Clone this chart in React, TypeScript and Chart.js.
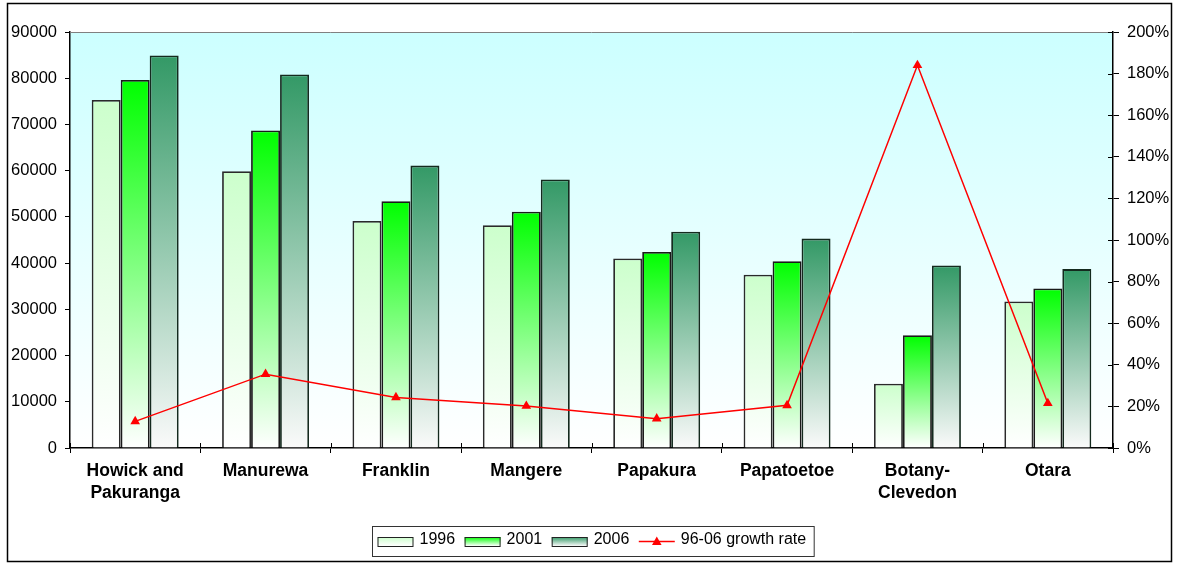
import React, { useEffect, useRef } from 'react';
import { Chart, registerables } from 'chart.js';

Chart.register(...registerables);

const categories: (string | string[])[] = [
  ['Howick and', 'Pakuranga'],
  'Manurewa',
  'Franklin',
  'Mangere',
  'Papakura',
  'Papatoetoe',
  ['Botany-', 'Clevedon'],
  'Otara',
];
const values1996 = [75300, 59900, 49100, 48200, 41000, 37500, 13900, 31700];
const values2001 = [79600, 68700, 53400, 51100, 42400, 40400, 24400, 34500];
const values2006 = [84900, 80800, 61100, 58100, 46800, 45300, 39500, 38700];
const growthRate = [12.8, 35.5, 24.3, 20.2, 14.1, 20.5, 184, 21.5];
const seriesLabels = ['1996', '2001', '2006', '96-06 growth rate'];
const leftAxisMax = 90000;
const leftAxisStep = 10000;
const rightAxisMax = 200;
const rightAxisStep = 20;

const FONT = '"Liberation Sans", Arial, Helvetica, sans-serif';
const barTopColors = ['#CCFFCC', '#00FF00', '#339966'];
const barBottomColors = ['#FFFFFF', '#FFFFFF', '#FAFAFA'];

function barGradient(i: number) {
  return (ctx: any) => {
    const chart = ctx.chart;
    const area = chart.chartArea;
    if (!area || ctx.type !== 'data' || !chart.scales.y) return barTopColors[i];
    const v = ctx.raw as number;
    const yScale = chart.scales.y;
    const yTop = yScale.getPixelForValue(v);
    const yBot = yScale.getPixelForValue(0);
    const g = chart.ctx.createLinearGradient(0, yTop, 0, yBot);
    g.addColorStop(0, barTopColors[i]);
    g.addColorStop(1, barBottomColors[i]);
    return g;
  };
}

const decorPlugin = {
  id: 'decor',
  beforeDraw(chart: any) {
    const { ctx, chartArea: a } = chart;
    ctx.save();
    ctx.fillStyle = '#FFFFFF';
    ctx.fillRect(0, 0, chart.width, chart.height);
    const g = ctx.createLinearGradient(0, a.top, 0, a.bottom);
    g.addColorStop(0, '#CCFFFF');
    g.addColorStop(1, '#FFFFFF');
    ctx.fillStyle = g;
    ctx.fillRect(a.left, a.top, a.right - a.left, a.bottom - a.top);
    ctx.restore();
  },
  afterDraw(chart: any) {
    const { ctx, chartArea: a } = chart;
    ctx.save();
    // top border of plot area
    ctx.strokeStyle = '#808080';
    ctx.lineWidth = 1;
    ctx.beginPath();
    ctx.moveTo(a.left, a.top + 0.5);
    ctx.lineTo(a.right, a.top + 0.5);
    ctx.stroke();

    // inward ticks on right axis and x axis
    ctx.strokeStyle = '#000';
    ctx.lineWidth = 1;
    const y1 = chart.scales.y1;
    y1.ticks.forEach((_t: any, idx: number) => {
      const py = Math.round(y1.getPixelForTick(idx)) + 0.5;
      ctx.beginPath();
      ctx.moveTo(a.right - 5, py);
      ctx.lineTo(a.right, py);
      ctx.stroke();
    });
    const n = categories.length;
    for (let i = 0; i <= n; i++) {
      const px = Math.round(a.left + ((a.right - a.left) * i) / n) + 0.5;
      ctx.beginPath();
      ctx.moveTo(px, a.bottom - 5);
      ctx.lineTo(px, a.bottom);
      ctx.stroke();
    }

    // outer border
    ctx.strokeStyle = '#000';
    ctx.lineWidth = 1.5;
    ctx.strokeRect(7.5, 3.5, 1164, 558);

    // legend
    ctx.font = `16px ${FONT}`;
    ctx.textBaseline = 'middle';
    ctx.textAlign = 'left';
    const swW = 36;
    const gapSwText = 6;
    const gapItems = 9.5;
    const padL = 5;
    const padR = 8;
    let total = padL + padR;
    seriesLabels.forEach((lab, i) => {
      total += swW + gapSwText + ctx.measureText(lab).width;
      if (i < seriesLabels.length - 1) total += gapItems;
    });
    const boxLeft = Math.round(592.5 - total / 2) + 0.5;
    const boxTop = 526.5;
    const boxH = 30;
    const cy = boxTop + boxH / 2;
    ctx.lineWidth = 1;
    ctx.strokeStyle = '#333';
    ctx.strokeRect(boxLeft, boxTop, total, boxH);
    let x = boxLeft + padL;
    seriesLabels.forEach((lab, i) => {
      if (i < 3) {
        const sy = Math.round(cy - 4.5);
        const g = ctx.createLinearGradient(0, sy, 0, sy + 9);
        g.addColorStop(0, barTopColors[i]);
        g.addColorStop(1, barBottomColors[i]);
        ctx.fillStyle = g;
        ctx.fillRect(x, sy, swW, 9);
        ctx.strokeStyle = '#222';
        ctx.lineWidth = 1;
        ctx.strokeRect(x + 0.5, sy + 0.5, swW - 1, 9);
      } else {
        ctx.strokeStyle = '#FF0000';
        ctx.lineWidth = 1.5;
        ctx.beginPath();
        ctx.moveTo(x, cy);
        ctx.lineTo(x + swW, cy);
        ctx.stroke();
        ctx.fillStyle = '#FF0000';
        const tx = x + swW / 2;
        ctx.beginPath();
        ctx.moveTo(tx, cy - 5);
        ctx.lineTo(tx + 4.8, cy + 3.5);
        ctx.lineTo(tx - 4.8, cy + 3.5);
        ctx.closePath();
        ctx.fill();
      }
      x += swW + gapSwText;
      ctx.fillStyle = '#000';
      ctx.fillText(lab, x, cy - 1.5);
      x += ctx.measureText(lab).width + gapItems;
    });
    ctx.restore();
  },
};

export default function App() {
  const ref = useRef<HTMLCanvasElement | null>(null);
  useEffect(() => {
    if (!ref.current) return;
    const chart = new Chart(ref.current, {
      type: 'bar',
      data: {
        labels: categories as any,
        datasets: [
          {
            type: 'line',
            label: seriesLabels[3],
            data: growthRate,
            yAxisID: 'y1',
            borderColor: '#FF0000',
            backgroundColor: '#FF0000',
            borderWidth: 1.5,
            pointStyle: 'triangle',
            pointRadius: 5.6,
            pointBorderWidth: 0,
            pointBackgroundColor: '#FF0000',
            tension: 0,
            order: 0,
          } as any,
          {
            label: seriesLabels[0],
            data: values1996,
            backgroundColor: barGradient(0),
            borderColor: '#2a2a2a',
            borderWidth: 1.8,
            order: 1,
          },
          {
            label: seriesLabels[1],
            data: values2001,
            backgroundColor: barGradient(1),
            borderColor: '#1a1a1a',
            borderWidth: 1.8,
            order: 1,
          },
          {
            label: seriesLabels[2],
            data: values2006,
            backgroundColor: barGradient(2),
            borderColor: '#142a1e',
            borderWidth: 1.8,
            order: 1,
          },
        ],
      },
      options: {
        responsive: false,
        animation: false,
        layout: { padding: { top: 32, left: 0, right: 0, bottom: 0 } },
        datasets: {
          bar: { categoryPercentage: 0.667, barPercentage: 1 },
        },
        plugins: {
          legend: { display: false },
          tooltip: { enabled: false },
        },
        scales: {
          x: {
            offset: true,
            grid: {
              offset: true,
              drawOnChartArea: false,
              tickLength: 5,
              color: '#000',
              tickWidth: 1,
            },
            border: { color: '#000', width: 1.5 },
            ticks: {
              color: '#000',
              font: { family: FONT, size: 17.5, weight: 'bold', lineHeight: 1.26 },
              padding: 7,
              maxRotation: 0,
              autoSkip: false,
            },
            afterFit: (s: any) => {
              s.height = 115;
            },
          },
          y: {
            position: 'left',
            min: 0,
            max: leftAxisMax,
            grid: { drawOnChartArea: false, tickLength: 5, color: '#000' },
            border: { color: '#000', width: 1.5 },
            ticks: {
              stepSize: leftAxisStep,
              color: '#000',
              font: { family: FONT, size: 16.5 },
              padding: 8,
              callback: (v: any) => String(v),
            },
            afterFit: (s: any) => {
              s.width = 70;
            },
          },
          y1: {
            position: 'right',
            min: 0,
            max: rightAxisMax,
            grid: { drawOnChartArea: false, tickLength: 6, color: '#000' },
            border: { color: '#000', width: 1.5 },
            ticks: {
              stepSize: rightAxisStep,
              color: '#000',
              font: { family: FONT, size: 16.5 },
              padding: 8,
              callback: (v: any) => `${v}%`,
            },
            afterFit: (s: any) => {
              s.width = 66;
            },
          },
        },
      },
      plugins: [decorPlugin],
    });
    return () => chart.destroy();
  }, []);
  return (
    <div style={{ position: 'absolute', left: 0, top: 0, width: 1179, height: 563 }}>
      <canvas ref={ref} width={1179} height={563} style={{ display: 'block' }} />
    </div>
  );
}
